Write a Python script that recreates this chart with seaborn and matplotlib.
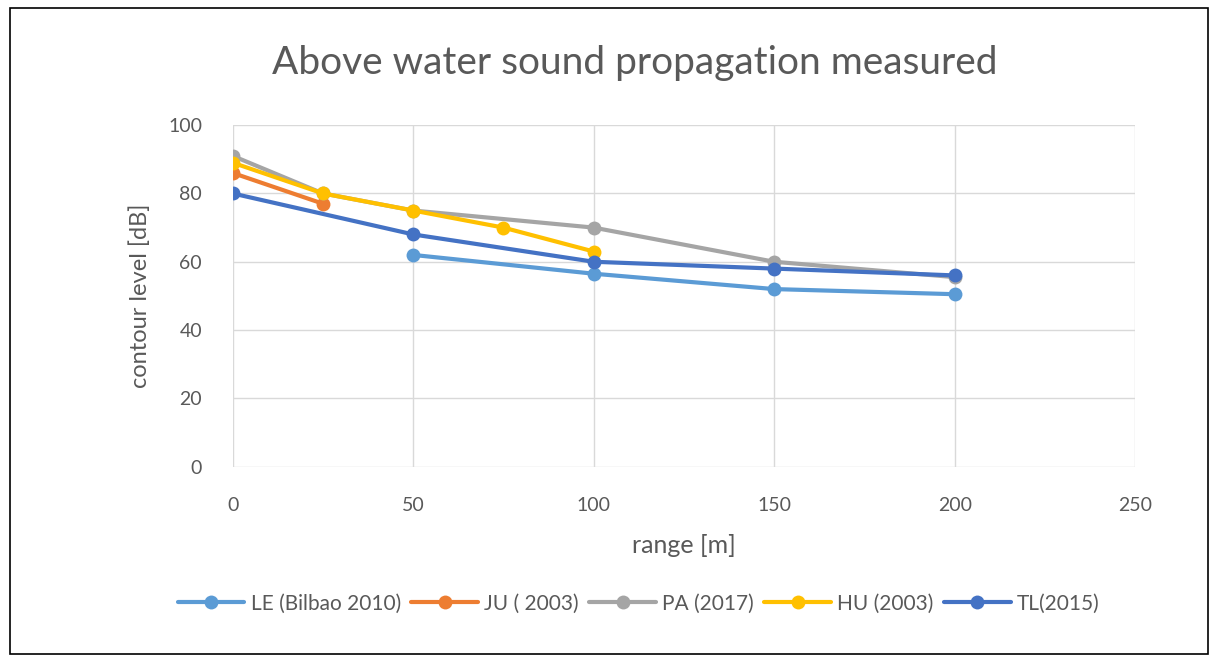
import numpy as np
import pandas as pd
import matplotlib.pyplot as plt
import seaborn as sns
from matplotlib.patches import Rectangle

# values
range_m = [0, 25, 50, 75, 100, 150, 200]
le_bilbao = [np.nan, np.nan, 62, np.nan, 56.5, 52, 50.5]
ju_2003 = [86, 77, np.nan, np.nan, np.nan, np.nan, np.nan]
pa_2017 = [91, 80, 75, np.nan, 70, 60, 55.5]
hu_2003 = [89, 80, 75, 70, 63, np.nan, np.nan]
tl_2015 = [80, np.nan, 68, np.nan, 60, 58, 56]

series_names = ["LE (Bilbao 2010)", "JU ( 2003)", "PA (2017)", "HU (2003)", "TL(2015)"]
series_vals = [le_bilbao, ju_2003, pa_2017, hu_2003, tl_2015]
colors = ["#5B9BD5", "#ED7D31", "#A5A5A5", "#FFC000", "#4472C4"]

rows = []
for name, vals in zip(series_names, series_vals):
    for x, v in zip(range_m, vals):
        if not np.isnan(v):
            rows.append({"range": x, "level": v, "series": name})
df = pd.DataFrame(rows)

sns.set_style("white")
plt.rcParams['font.family'] = ['Lato', 'DejaVu Sans']
txt = "#595959"

fig = plt.figure(figsize=(12.18, 6.62), dpi=100)
ax = fig.add_axes([0.191, 0.295, 0.741, 0.516])

sns.lineplot(data=df, x="range", y="level", hue="series", hue_order=series_names,
             palette=colors, marker="o", markersize=10, markeredgewidth=0,
             linewidth=3, sort=True, ax=ax)

ax.set_xlim(0, 250)
ax.set_ylim(0, 100)
ax.set_xticks(range(0, 251, 50))
ax.set_yticks(range(0, 101, 20))
ax.grid(True, color="#D9D9D9", linewidth=1)
ax.set_axisbelow(True)
for s in ax.spines.values():
    s.set_visible(False)
ax.tick_params(axis="both", length=0, labelsize=14, labelcolor=txt)
ax.tick_params(axis="x", pad=22)
ax.tick_params(axis="y", pad=22)

ax.set_xlabel("range [m]", fontsize=18, color=txt, labelpad=14)
ax.set_ylabel("contour level [dB]", fontsize=17, color=txt, labelpad=12)
fig.text(0.521, 0.905, "Above water sound propagation measured", ha="center",
         va="center", fontsize=28, color=txt)

handles, labels = ax.get_legend_handles_labels()
ax.legend(handles, labels, loc="center", bbox_to_anchor=(0.45, -0.401), ncol=5,
          frameon=False, fontsize=15, labelcolor=txt, handlelength=3.2,
          handletextpad=0.3, columnspacing=0.5)

fig.patches.append(Rectangle((0.008, 0.012), 0.984, 0.976, transform=fig.transFigure,
                             fill=False, edgecolor="black", linewidth=1.2))

fig.savefig("out.png", dpi=100)
